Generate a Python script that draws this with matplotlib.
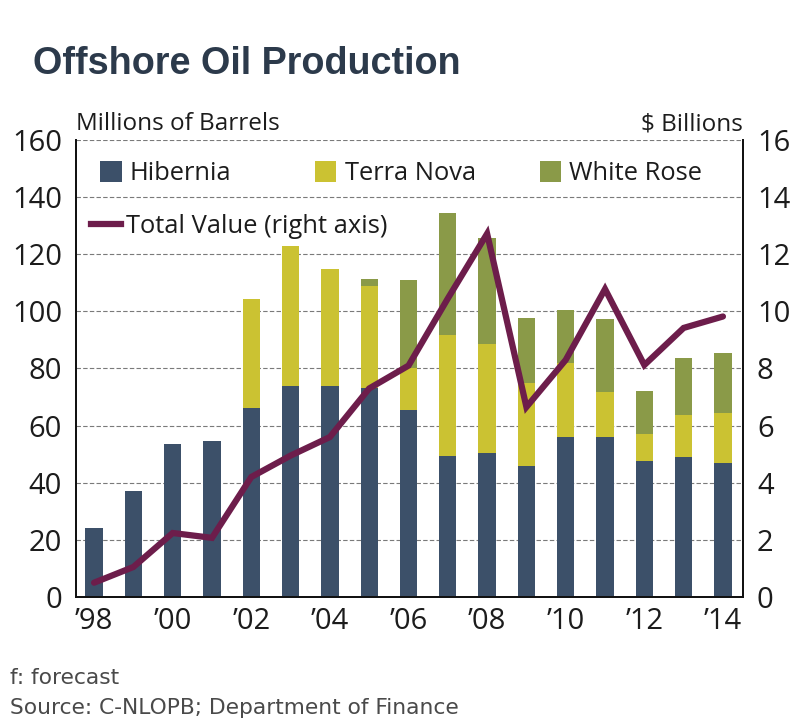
import numpy as np
import matplotlib.pyplot as plt
from matplotlib.patches import Patch
from matplotlib.lines import Line2D

# === Data ===
years = np.arange(1998, 2015)
hibernia = [24, 37, 53.5, 54.5, 66, 74, 74, 73, 65.5, 49.5, 50.5, 46, 56, 56, 47.5, 49, 47]
terra_nova = [0, 0, 0, 0, 38.3, 49, 41, 36, 14.5, 42.2, 38, 29, 26, 15.8, 9.7, 14.7, 17.4]
white_rose = [0, 0, 0, 0, 0, 0, 0, 2.5, 31, 42.9, 37.2, 22.7, 18.5, 25.5, 14.9, 20, 21]
total_value = [0.5, 1.05, 2.24, 2.07, 4.2, 4.95, 5.6, 7.3, 8.1, 10.45, 12.72, 6.65,
               8.3, 10.78, 8.12, 9.42, 9.82]
xtick_years = np.arange(1998, 2015, 2)
xtick_labels = ["\u2019" + f"{y % 100:02d}" for y in xtick_years]

# === Style ===
c_hib = '#3c5069'
c_tn = '#cbc232'
c_wr = '#8a9a48'
c_line = '#6d1d4b'
c_text = '#1c1c1c'
c_grid = '#7a7a7a'
font = 'Open Sans'
tick_fs = 21
lab_fs = 17.5
leg_fs = 18.4

fig = plt.figure(figsize=(7.99, 7.23), dpi=100)
ax = fig.add_axes([0.0951, 0.1743, 0.8348, 0.6321])
ax2 = ax.twinx()

width = 0.44
bottom_tn = np.array(hibernia)
bottom_wr = bottom_tn + np.array(terra_nova)
ax.bar(years, hibernia, width, color=c_hib, zorder=2)
ax.bar(years, terra_nova, width, bottom=bottom_tn, color=c_tn, zorder=2)
ax.bar(years, white_rose, width, bottom=bottom_wr, color=c_wr, zorder=2)

ax2.plot(years, total_value, color=c_line, lw=4.5, solid_capstyle='round',
         solid_joinstyle='miter', zorder=3)

ax.set_xlim(1997.54, 2014.51)
ax.set_ylim(0, 160)
ax2.set_ylim(0, 16)
ax.set_yticks(np.arange(0, 161, 20))
ax2.set_yticks(np.arange(0, 17, 2))
ax.set_xticks(xtick_years)
ax.set_xticklabels(xtick_labels)

ax.grid(axis='y', linestyle=(0, (4, 2)), color=c_grid, lw=0.8)
ax.set_axisbelow(True)

for a in (ax, ax2):
    a.spines['top'].set_visible(False)
    for s in ('left', 'right', 'bottom'):
        a.spines[s].set_color('#111111')
        a.spines[s].set_linewidth(1.3)
    a.tick_params(length=0, labelsize=tick_fs, labelcolor=c_text)
    for lbl in a.get_xticklabels() + a.get_yticklabels():
        lbl.set_family(font)
ax.tick_params(axis='y', pad=10)
ax.tick_params(axis='x', pad=7)
ax2.tick_params(axis='y', pad=10)

# axis unit labels
ax.text(0.0, 1.008, "Millions of Barrels", transform=ax.transAxes, ha='left', va='bottom',
        fontsize=lab_fs, family=font, color=c_text)
ax.text(1.0, 1.008, "$ Billions", transform=ax.transAxes, ha='right', va='bottom',
        fontsize=lab_fs, family=font, color=c_text)

# === Legend entries ===
bar_items = [("Hibernia", c_hib, 0.036), ("Terra Nova", c_tn, 0.358), ("White Rose", c_wr, 0.695)]
for name, col, xpos in bar_items:
    lg = ax2.legend([Patch(facecolor=col)], [name], loc='center left',
                    bbox_to_anchor=(xpos, 0.926), frameon=False, borderpad=0,
                    borderaxespad=0, handlelength=0.85, handleheight=0.85,
                    handletextpad=0.32, prop={'family': font, 'size': leg_fs})
    for t in lg.get_texts():
        t.set_color(c_text)
    ax2.add_artist(lg)
lg = ax2.legend([Line2D([], [], color=c_line, lw=4.5)], ["Total Value (right axis)"],
                loc='center left', bbox_to_anchor=(0.022, 0.81), frameon=False,
                borderpad=0, borderaxespad=0, handlelength=1.2, handletextpad=0.18,
                prop={'family': font, 'size': leg_fs})
for t in lg.get_texts():
    t.set_color(c_text)

# === Title and notes ===
fig.text(0.041, 0.912, "Offshore Oil Production", ha='left', va='center',
         fontsize=27.2, fontweight='bold', family='Liberation Sans', color='#2c3a4b')
fig.text(0.012, 0.062, "f: forecast", ha='left', va='center',
         fontsize=15.7, family='DejaVu Sans', color='#4a4a4a')
fig.text(0.012, 0.021, "Source: C-NLOPB; Department of Finance", ha='left', va='center',
         fontsize=15.7, family='DejaVu Sans', color='#4a4a4a')

fig.savefig("out.png", dpi=100, facecolor='white')
